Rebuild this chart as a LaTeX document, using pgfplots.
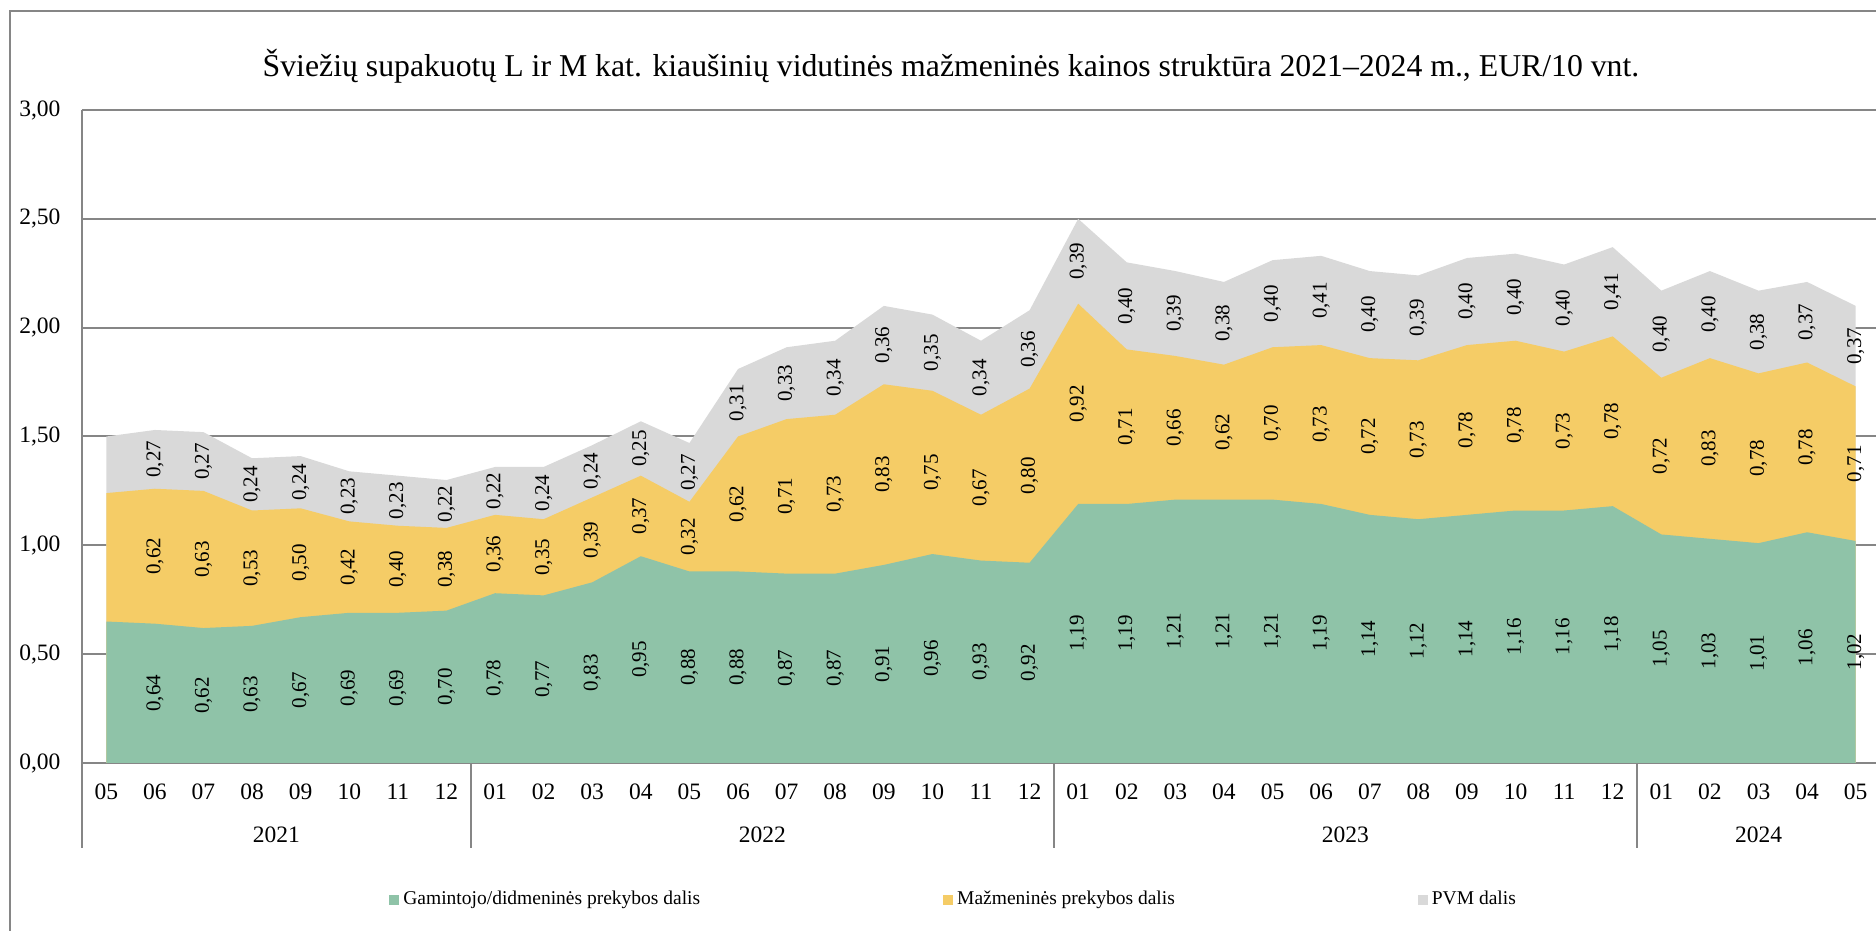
\documentclass[border=0pt]{standalone}
\usepackage{fontspec}
\setmainfont{Liberation Serif}
\usepackage{pgfplots}
\usepackage{pgfplotstable}
\pgfplotsset{compat=1.18}
\definecolor{cG}{RGB}{143,195,168}
\definecolor{cY}{RGB}{245,204,102}
\definecolor{cP}{RGB}{217,217,217}
\definecolor{cL}{RGB}{134,134,134}
\pgfplotstableread{
x g r p
0 0.65 0.59 0.26
1 0.64 0.62 0.27
2 0.62 0.63 0.27
3 0.63 0.53 0.24
4 0.67 0.50 0.24
5 0.69 0.42 0.23
6 0.69 0.40 0.23
7 0.70 0.38 0.22
8 0.78 0.36 0.22
9 0.77 0.35 0.24
10 0.83 0.39 0.24
11 0.95 0.37 0.25
12 0.88 0.32 0.27
13 0.88 0.62 0.31
14 0.87 0.71 0.33
15 0.87 0.73 0.34
16 0.91 0.83 0.36
17 0.96 0.75 0.35
18 0.93 0.67 0.34
19 0.92 0.80 0.36
20 1.19 0.92 0.39
21 1.19 0.71 0.40
22 1.21 0.66 0.39
23 1.21 0.62 0.38
24 1.21 0.70 0.40
25 1.19 0.73 0.41
26 1.14 0.72 0.40
27 1.12 0.73 0.39
28 1.14 0.78 0.40
29 1.16 0.78 0.40
30 1.16 0.73 0.40
31 1.18 0.78 0.41
32 1.05 0.72 0.40
33 1.03 0.83 0.40
34 1.01 0.78 0.38
35 1.06 0.78 0.37
36 1.02 0.71 0.37
}\data
\begin{document}
\begin{tikzpicture}
\path[use as bounding box] (0pt,0pt) rectangle (750.4pt,372.4pt);
\clip (0pt,0pt) rectangle (750.4pt,372.4pt);
\draw[cL, line width=0.8pt] (4pt,-4pt) -- (4pt,368pt) -- (760pt,368pt);
\node[font=\fontsize{12.7}{15}\selectfont, anchor=base] at (380.4pt,341.6pt) {Šviežių supakuotų L ir M kat. kiaušinių vidutinės mažmeninės kainos struktūra 2021–2024 m., EUR/10 vnt.};
\begin{axis}[
  at={(32.8pt,67.2pt)}, anchor=south west, scale only axis,
  width=719.2pt, height=261.2pt,
  xmin=-0.5, xmax=36.5, ymin=0, ymax=3,
  clip=false,
  axis line style={draw=none},
  major tick length=0pt,
  ytick={0,0.5,1,1.5,2,2.5,3},
  ymajorgrids, grid style={cL, line width=0.8pt},
  xtick={0,...,36},
  xticklabels={05,06,07,08,09,10,11,12,01,02,03,04,05,06,07,08,09,10,11,12,01,02,03,04,05,06,07,08,09,10,11,12,01,02,03,04,05},
  tick label style={font=\fontsize{9.4}{11}\selectfont},
  xticklabel style={anchor=center, yshift=-11.6pt, inner sep=0pt},
  yticklabel style={anchor=east, inner sep=0pt, xshift=-8.4pt,
     /pgf/number format/fixed, /pgf/number format/fixed zerofill,
     /pgf/number format/precision=2, /pgf/number format/use comma},
  /pgf/number format/assume math mode=true,
  reverse legend,
  legend columns=3,
  legend image code/.code={\fill[#1, draw=none] (0pt,-2pt) rectangle (4pt,2pt);},
  legend style={at={(0.1707,-0.2098)}, anchor=west, draw=none, fill=none,
     inner sep=0pt, font=\fontsize{7.8}{9}\selectfont,
     nodes={inner sep=0pt},
     /tikz/every even column/.append style={column sep=97.2pt},
     /tikz/every odd column/.append style={column sep=1.6pt}},
  every node near coord/.append style={rotate=90, anchor=center, inner sep=0pt,
     font=\fontsize{8.4}{10}\selectfont, text=black},
]
\addplot[fill=cP, draw=none] table[x=x, y expr=\thisrow{g}+\thisrow{r}+\thisrow{p}]{\data} \closedcycle;
\addlegendentry{PVM dalis}
\addplot[fill=cY, draw=none] table[x=x, y expr=\thisrow{g}+\thisrow{r}]{\data} \closedcycle;
\addlegendentry{Mažmeninės prekybos dalis}
\addplot[fill=cG, draw=none] table[x=x, y=g]{\data} \closedcycle;
\addlegendentry{Gamintojo/didmeninės prekybos dalis}

\addplot[draw=none, mark=none, forget plot, skip coords between index={0}{1},
  point meta=explicit,
  nodes near coords={\pgfmathprintnumber[fixed,fixed zerofill,precision=2,use comma,assume math mode=true]{\pgfplotspointmeta}}]
  table[x=x, y expr=\thisrow{g}/2, meta=g]{\data};
\addplot[draw=none, mark=none, forget plot, skip coords between index={0}{1},
  point meta=explicit,
  nodes near coords={\pgfmathprintnumber[fixed,fixed zerofill,precision=2,use comma,assume math mode=true]{\pgfplotspointmeta}}]
  table[x=x, y expr=\thisrow{g}+\thisrow{r}/2, meta=r]{\data};
\addplot[draw=none, mark=none, forget plot, skip coords between index={0}{1},
  point meta=explicit,
  nodes near coords={\pgfmathprintnumber[fixed,fixed zerofill,precision=2,use comma,assume math mode=true]{\pgfplotspointmeta}}]
  table[x=x, y expr=\thisrow{g}+\thisrow{r}+\thisrow{p}/2, meta=p]{\data};

\draw[cL, line width=0.8pt] (axis cs:-0.5,3) -- (axis cs:-0.5,0) -- ++(0pt,-34pt);
\draw[cL, line width=0.8pt] (axis cs:7.5,0) -- ++(0pt,-34pt);
\draw[cL, line width=0.8pt] (axis cs:19.5,0) -- ++(0pt,-34pt);
\draw[cL, line width=0.8pt] (axis cs:31.5,0) -- ++(0pt,-34pt);
\node[font=\fontsize{9.4}{11}\selectfont, yshift=-28.8pt] at (axis cs:3.5,0) {2021};
\node[font=\fontsize{9.4}{11}\selectfont, yshift=-28.8pt] at (axis cs:13.5,0) {2022};
\node[font=\fontsize{9.4}{11}\selectfont, yshift=-28.8pt] at (axis cs:25.5,0) {2023};
\node[font=\fontsize{9.4}{11}\selectfont, yshift=-28.8pt] at (axis cs:34,0) {2024};
\end{axis}
\end{tikzpicture}
\end{document}
